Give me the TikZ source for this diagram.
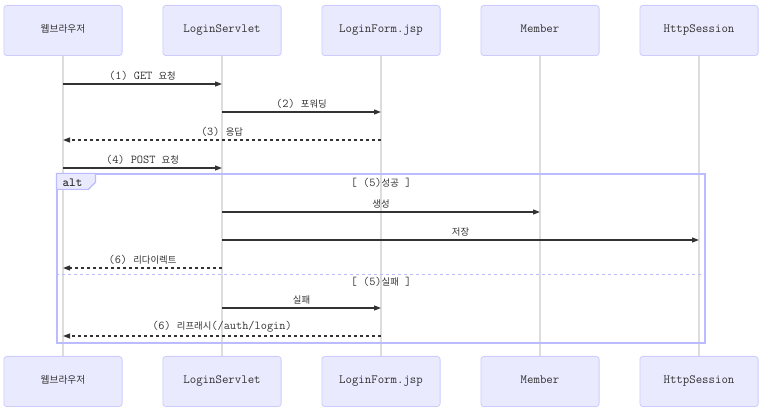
\documentclass[tikz,border=0pt]{standalone}
\usepackage{fontspec}
\newfontfamily\kr[Scale=0.78]{Noto Sans CJK KR}
\usetikzlibrary{arrows.meta, positioning, calc}

\definecolor{actorfill}{HTML}{EAEAFF}
\definecolor{actorline}{HTML}{CCCCFF}
\definecolor{lifeline}{HTML}{DDDDDD}
\definecolor{msgline}{HTML}{333333}
\definecolor{altline}{HTML}{BBBBFF}

\begin{document}
\begin{tikzpicture}[
    x=1pt, y=-1pt,
    node distance=40pt,
    actor/.style={rectangle, draw=actorline, fill=actorfill, rounded corners=3pt, minimum width=118.2pt, minimum height=50.2pt, line width=0.8pt, text=msgline, text height=8pt, text depth=4pt, font=\ttfamily\fontsize{12.5}{14}\selectfont},
    life/.style={draw=lifeline, line width=2pt},
    msg/.style={-{Triangle[length=7pt,width=5pt]}, draw=msgline, line width=1.2pt},
    reply/.style={msg, dash pattern=on 3pt off 3pt},
    lbl/.style={above, inner sep=3pt, text=msgline, font=\ttfamily\fontsize{12}{13}\selectfont},
    frame/.style={rectangle, draw=altline, line width=1.2pt, minimum width=648pt, minimum height=169pt, inner sep=0pt},
    guard/.style={text=msgline, inner sep=0pt, font=\ttfamily\fontsize{12}{13}\selectfont}
]
\useasboundingbox (0,0) rectangle (764,414);

% actors (top)
\node[actor] (browser) at (63,30.5) {\kr 웹브라우저};
\node[actor, right=of browser] (servlet) {LoginServlet};
\node[actor, right=of servlet] (form) {LoginForm.jsp};
\node[actor, right=of form] (member) {Member};
\node[actor, right=of member] (session) {HttpSession};

% actors (bottom)
\node[actor, below=300pt of browser] (browserB) {\kr 웹브라우저};
\node[actor, below=300pt of servlet] (servletB) {LoginServlet};
\node[actor, below=300pt of form] (formB) {LoginForm.jsp};
\node[actor, below=300pt of member] (memberB) {Member};
\node[actor, below=300pt of session] (sessionB) {HttpSession};

% lifelines
\draw[life] (browser) -- (browserB);
\draw[life] (servlet) -- (servletB);
\draw[life] (form) -- (formB);
\draw[life] (member) -- (memberB);
\draw[life] (session) -- (sessionB);

% alt frame
\node[frame] (alt) at (381,258.5) {};
\draw[draw=altline, fill=actorfill, line width=1.2pt] (alt.north west) -- ++(39,0) -- ++(0,9) -- ++(-7,7) -- ($(alt.north west)+(0,16)$) -- cycle;
\node[guard, font=\ttfamily\fontsize{12.5}{14}\selectfont\bfseries] (altlbl) at (72.5,183) {alt};
\node[guard] (okguard) at (381,183) {[ (5){\kr 성공} ]};
\draw[draw=altline, line width=1pt, dash pattern=on 3pt off 3pt] (alt.west |- 0,274.5) -- (alt.east |- 0,274.5);
\node[guard] (failguard) at (381,282) {[ (5){\kr 실패} ]};

% messages
\coordinate (m1) at (0,84);
\coordinate (m2) at (0,112);
\coordinate (m3) at (0,140);
\coordinate (m4) at (0,168);
\coordinate (m5) at (0,212);
\coordinate (m6) at (0,240);
\coordinate (m7) at (0,268);
\coordinate (m8) at (0,308);
\coordinate (m9) at (0,336);

\draw[msg] (browser |- m1) -- node[lbl] {(1) GET {\kr 요청}} (servlet |- m1);
\draw[msg] (servlet |- m2) -- node[lbl] {(2) {\kr 포워딩}} (form |- m2);
\draw[reply] (form |- m3) -- node[lbl] {(3) {\kr 응답}} (browser |- m3);
\draw[msg] (browser |- m4) -- node[lbl] {(4) POST {\kr 요청}} (servlet |- m4);
\draw[msg] (servlet |- m5) -- node[lbl] {\kr 생성} (member |- m5);
\draw[msg] (servlet |- m6) -- node[lbl] {\kr 저장} (session |- m6);
\draw[reply] (servlet |- m7) -- node[lbl] {(6) {\kr 리다이렉트}} (browser |- m7);
\draw[msg] (servlet |- m8) -- node[lbl] {\kr 실패} (form |- m8);
\draw[reply] (form |- m9) -- node[lbl] {(6) {\kr 리프래시}(/auth/login)} (browser |- m9);

\end{tikzpicture}
\end{document}
